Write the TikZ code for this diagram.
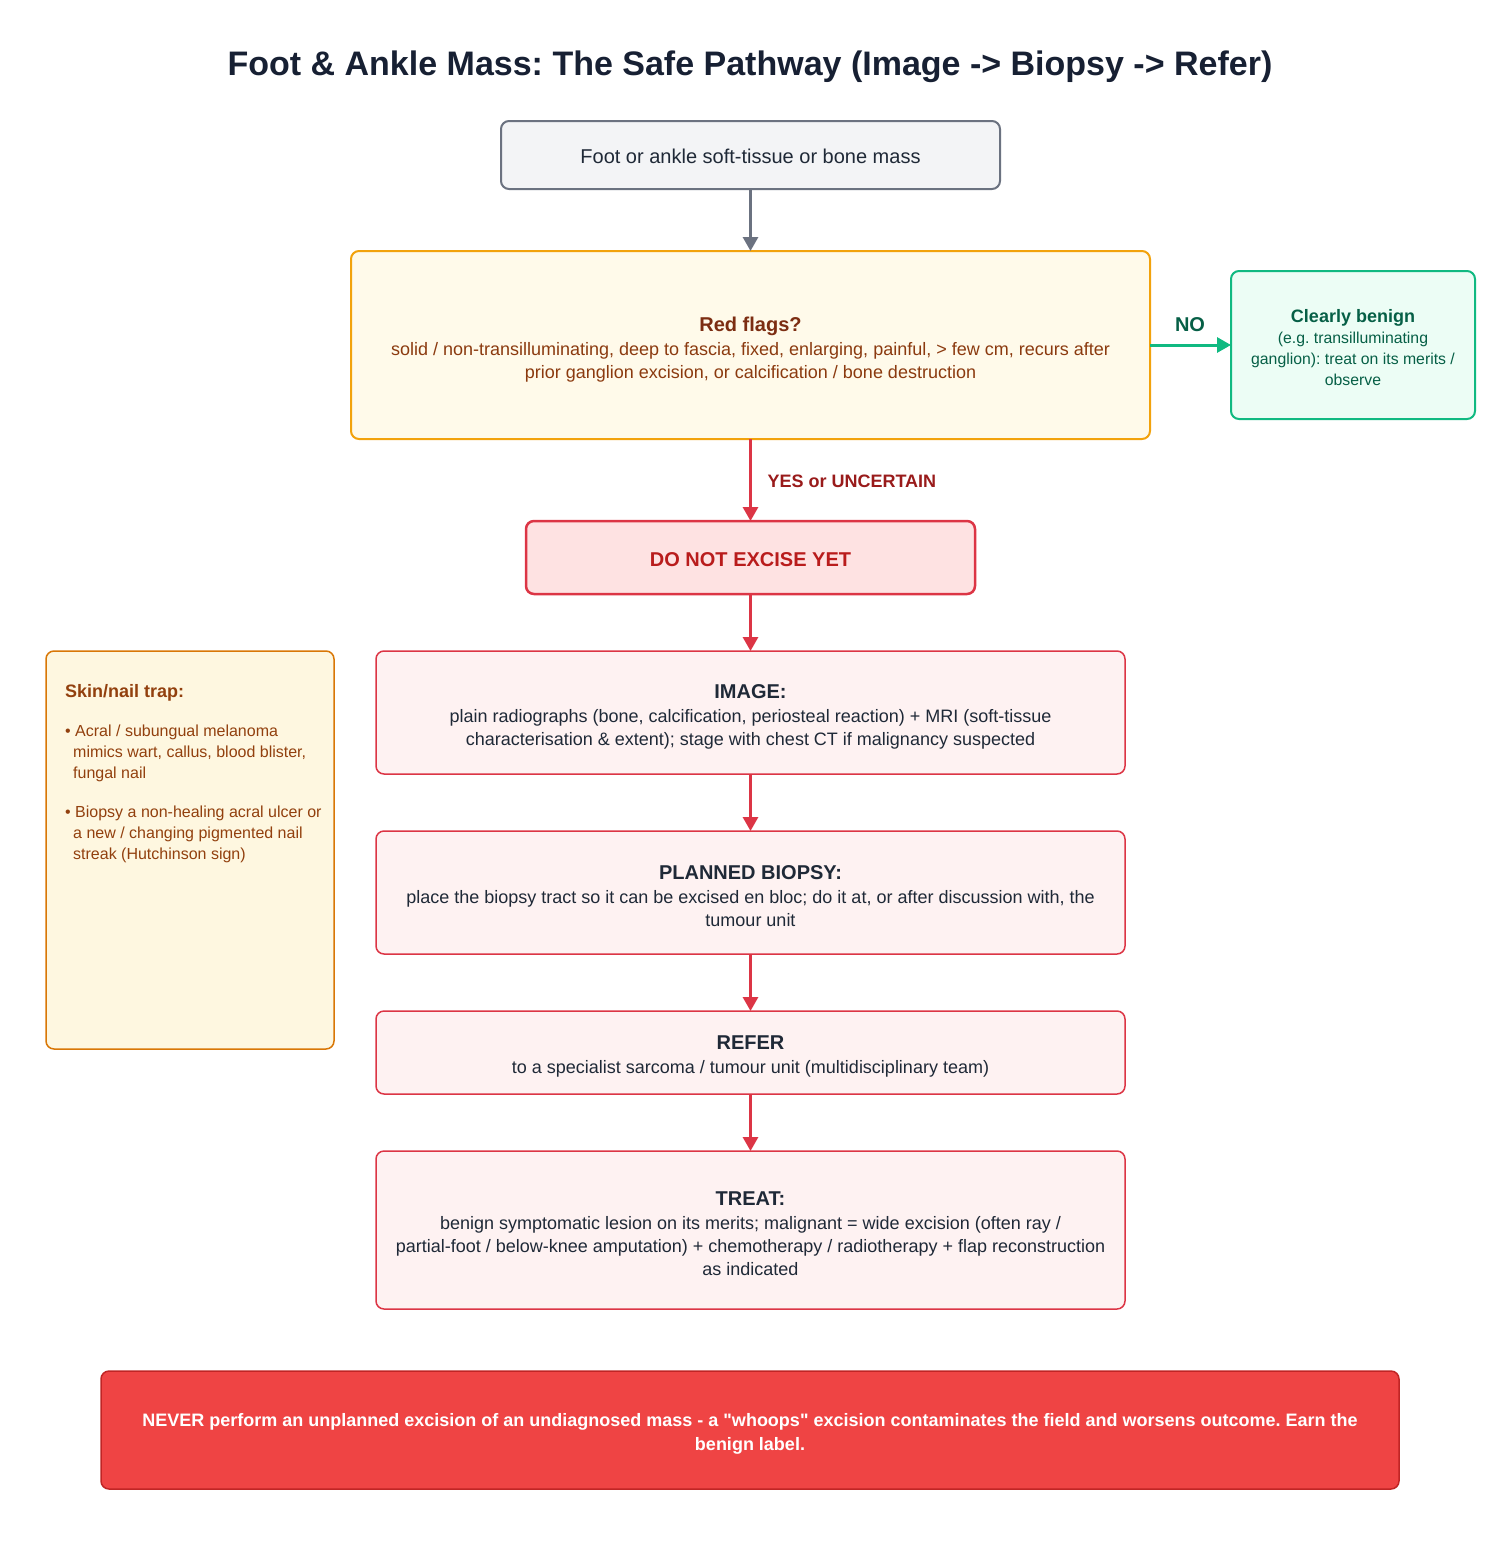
\documentclass[tikz,border=0pt]{standalone}
\usepackage{fontspec}
\setmainfont{Liberation Sans}[Ligatures=TeXOff]
\usetikzlibrary{arrows.meta}
\definecolor{titlec}{HTML}{172033}
\definecolor{grayfill}{HTML}{F3F4F6}
\definecolor{graydraw}{HTML}{6B7280}
\definecolor{amberfill}{HTML}{FFFAEA}
\definecolor{amberdraw}{HTML}{F2A20C}
\definecolor{browntitle}{HTML}{7C2D12}
\definecolor{browntext}{HTML}{8B3A0F}
\definecolor{greenfill}{HTML}{ECFDF5}
\definecolor{greendraw}{HTML}{10B981}
\definecolor{greentext}{HTML}{065F46}
\definecolor{redline}{HTML}{DC3545}
\definecolor{dnefill}{HTML}{FEE2E2}
\definecolor{dnetext}{HTML}{B91C1C}
\definecolor{bodyfill}{HTML}{FEF2F2}
\definecolor{bodytext}{HTML}{1F2937}
\definecolor{sidefill}{HTML}{FEF7E0}
\definecolor{sidedraw}{HTML}{D97706}
\definecolor{sidetext}{HTML}{92400E}
\definecolor{bannerfill}{HTML}{EF4444}
\definecolor{bannerdraw}{HTML}{C02525}
\definecolor{yestext}{HTML}{991B1B}
\begin{document}
\frenchspacing
\begin{tikzpicture}[x=1pt,y=-1pt,
  box/.style={draw, rounded corners=8pt, inner sep=0pt, outer sep=0pt, line width=1.5pt},
  txt/.style={inner sep=0pt, align=center, font=\fontsize{18}{23}\selectfont},
  arr/.style={line width=3pt, -{Triangle[length=14pt,width=15pt]}},
  execute at begin node=\frenchspacing
]
\useasboundingbox (0,0) rectangle (1500,1550);

\node[font=\fontsize{34}{40}\selectfont\bfseries, text=titlec] (title) at (750,67)
  {Foot \& Ankle Mass: The Safe Pathway (Image -> Biopsy -> Refer)};

% start
\node[box, fill=grayfill, draw=graydraw, line width=2pt,
  minimum width=499pt, minimum height=68pt] (start) at (750.5,155) {};
\node[txt, text=bodytext, font=\fontsize{20}{23}\selectfont] (startT) at ([yshift=-1.5pt]start.center)
  {Foot or ankle soft-tissue or bone mass};

% red flags
\node[box, fill=amberfill, draw=amberdraw, line width=2pt,
  minimum width=799pt, minimum height=188pt] (flags) at (750.5,345) {};
\node[txt, text=browntext] (flagsT) at ([yshift=-4.5pt]flags.center)
  {{\fontsize{20}{23}\selectfont\bfseries\color{browntitle}Red flags?}\\[1pt]
   solid / non-transilluminating, deep to fascia, fixed, enlarging, painful, > few cm, recurs after\\
   prior ganglion excision, or calcification / bone destruction};

% benign
\node[box, fill=greenfill, draw=greendraw, line width=2pt,
  minimum width=244pt, minimum height=148pt] (benign) at (1353,345) {};
\node[txt, text=greentext, font=\fontsize{15.8}{21}\selectfont] (benignT) at ([yshift=-3pt]benign.center)
  {{\fontsize{18}{21}\selectfont\bfseries Clearly benign}\\
   (e.g. transilluminating\\ ganglion): treat on its merits /\\ observe};

% do not excise
\node[box, fill=dnefill, draw=redline, line width=2.5pt,
  minimum width=449pt, minimum height=73pt] (dne) at (750.5,557.5) {};
\node[txt, text=dnetext, font=\fontsize{20}{23}\selectfont\bfseries] (dneT) at ([yshift=-2.5pt]dne.center)
  {DO NOT EXCISE YET};

% image
\node[box, fill=bodyfill, draw=redline, minimum width=749pt, minimum height=123pt] (image) at (750.5,712.5) {};
\node[txt, text=bodytext] (imageT) at ([yshift=-4pt]image.center)
  {{\fontsize{20}{23}\selectfont\bfseries IMAGE:}\\[1pt]
   plain radiographs (bone, calcification, periosteal reaction) + MRI (soft-tissue\\
   characterisation \& extent); stage with chest CT if malignancy suspected};

% biopsy
\node[box, fill=bodyfill, draw=redline, minimum width=749pt, minimum height=123pt] (biopsy) at (750.5,892.5) {};
\node[txt, text=bodytext] (biopsyT) at ([yshift=-4pt]biopsy.center)
  {{\fontsize{20}{23}\selectfont\bfseries PLANNED BIOPSY:}\\[1pt]
   place the biopsy tract so it can be excised en bloc; do it at, or after discussion with, the\\
   tumour unit};

% refer
\node[box, fill=bodyfill, draw=redline, minimum width=749pt, minimum height=83pt] (refer) at (750.5,1052.5) {};
\node[txt, text=bodytext] (referT) at ([yshift=-4pt]refer.center)
  {{\fontsize{20}{23}\selectfont\bfseries REFER}\\[1pt]
   to a specialist sarcoma / tumour unit (multidisciplinary team)};

% treat
\node[box, fill=bodyfill, draw=redline, minimum width=749pt, minimum height=158pt] (treat) at (750.5,1230) {};
\node[txt, text=bodytext] (treatT) at ([yshift=-3.5pt]treat.center)
  {{\fontsize{20}{23}\selectfont\bfseries TREAT:}\\[1pt]
   benign symptomatic lesion on its merits; malignant = wide excision (often ray /\\
   partial-foot / below-knee amputation) + chemotherapy / radiotherapy + flap reconstruction\\
   as indicated};

% side note
\node[box, fill=sidefill, draw=sidedraw, minimum width=288pt, minimum height=398pt] (side) at (190,850) {};
\node[anchor=north west, inner sep=0pt, align=left, text=sidetext,
  font=\fontsize{16}{21}\selectfont] (sidetxt) at (65,684)
  {{\fontsize{18}{21}\selectfont\bfseries Skin/nail trap:}\\[18pt]
   •\ Acral / subungual melanoma\\
   \hspace{8pt}mimics wart, callus, blood blister,\\
   \hspace{8pt}fungal nail\\[18pt]
   •\ Biopsy a non-healing acral ulcer or\\
   \hspace{8pt}a new / changing pigmented nail\\
   \hspace{8pt}streak (Hutchinson sign)};

% banner
\node[box, fill=bannerfill, draw=bannerdraw, minimum width=1298pt, minimum height=118pt] (banner) at (750,1430) {};
\node[txt, text=white, font=\fontsize{18}{24}\selectfont\bfseries] (bannerT) at ([yshift=-3.5pt]banner.center)
  {NEVER perform an unplanned excision of an undiagnosed mass - a "whoops" excision contaminates the field and worsens outcome. Earn the\\
   benign label.};

\draw[arr, graydraw] (start.south) -- (flags.north);
\draw[arr, greendraw] (flags.east) -- (benign.west);
\node[font=\fontsize{20}{23}\selectfont\bfseries, text=greentext] (nolab) at (1190,325) {NO};
\draw[arr, redline] (flags.south) -- (dne.north);
\node[anchor=west, font=\fontsize{18}{23}\selectfont\bfseries, text=yestext] (yeslab) at (764,481) {YES or UNCERTAIN};
\draw[arr, redline] (dne.south) -- (image.north);
\draw[arr, redline] (image.south) -- (biopsy.north);
\draw[arr, redline] (biopsy.south) -- (refer.north);
\draw[arr, redline] (refer.south) -- (treat.north);
\end{tikzpicture}
\end{document}
